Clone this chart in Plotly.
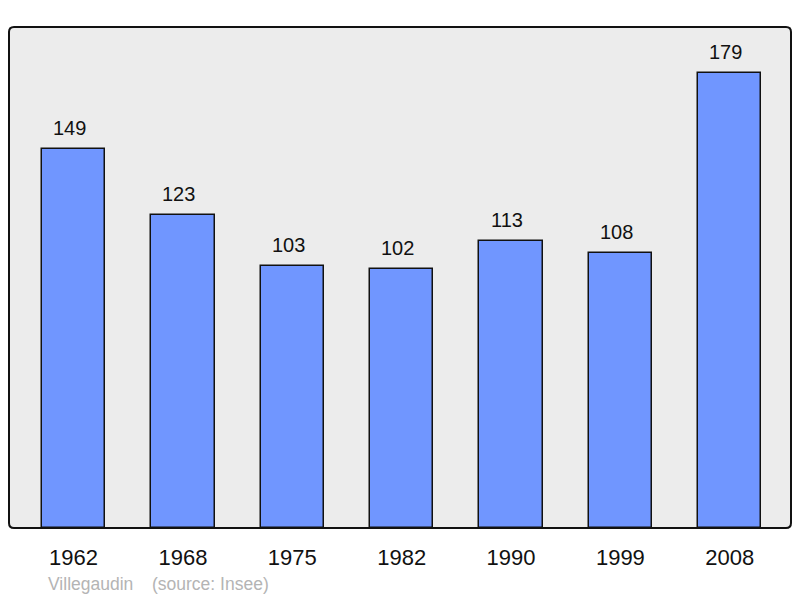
"""
Évolution démographique de Villegaudin (source : Insee)
"""
import plotly.graph_objects as go

# ─── données ──────────────────────────────────────────────────────────────────
YEARS = ["1962", "1968", "1975", "1982", "1990", "1999", "2008"]
POPULATION = [149, 123, 103, 102, 113, 108, 179]
COMMUNE = "Villegaudin"
SOURCE = "(source: Insee)"

BAR_COLOR = "#7096ff"
BG_COLOR = "#ececec"
FONT = "Liberation Sans, Arial, sans-serif"

W, H = 800, 598
M_L, M_R, M_T, M_B = 9, 9, 27, 70
pw, ph = W - M_L - M_R, H - M_T - M_B


def px_to_paper(x, y):
    """pixels (depuis le coin haut-gauche) -> coordonnées paper"""
    return (x - M_L) / pw, (H - y - M_B) / ph


x_pos = list(range(len(YEARS)))

fig = go.Figure()
fig.add_trace(go.Bar(
    x=x_pos, y=POPULATION, width=0.58,
    marker=dict(color=BAR_COLOR, line=dict(color="#111111", width=1.5)),
    hoverinfo="x+y", showlegend=False,
))

# étiquettes de valeur au-dessus des barres
for x, v in zip(x_pos, POPULATION):
    fig.add_annotation(x=x, y=v, text=str(v), showarrow=False,
                       yanchor="bottom", yshift=8, xshift=-4,
                       font=dict(family=FONT, size=20, color="#111111"))

# cadre à coins arrondis
rx, ry = 5 / pw, 5 / ph
path = (f"M {rx},0 L {1-rx},0 Q 1,0 1,{ry} L 1,{1-ry} Q 1,1 {1-rx},1 "
        f"L {rx},1 Q 0,1 0,{1-ry} L 0,{ry} Q 0,0 {rx},0 Z")
fig.add_shape(type="path", path=path, xref="paper", yref="paper",
              line=dict(color="#111111", width=2), layer="above")

# légende source
for px, txt in [(46, COMMUNE), (150, SOURCE)]:
    ax, ay = px_to_paper(px, 584)
    fig.add_annotation(x=ax, y=ay, xref="paper", yref="paper",
                       text=txt, showarrow=False, xanchor="left", yanchor="middle",
                       font=dict(family=FONT, size=17.5, color="#b4b4b4"))

fig.update_layout(
    width=W, height=H,
    margin=dict(l=M_L, r=M_R, t=M_T, b=M_B),
    paper_bgcolor="white", plot_bgcolor=BG_COLOR,
    font=dict(family=FONT),
    bargap=0,
)
fig.update_xaxes(range=[-0.59, 6.56], tickvals=x_pos, ticktext=YEARS,
                 showgrid=False, zeroline=False, showline=False, ticks="",
                 ticklabelstandoff=14,
                 tickfont=dict(family=FONT, size=22, color="#111111"))
fig.update_yaxes(range=[0, 197], showgrid=False, zeroline=False,
                 showticklabels=False, showline=False)

fig.write_html("out.html", config={"displayModeBar": False},
               post_script="document.body.style.margin='0';")
